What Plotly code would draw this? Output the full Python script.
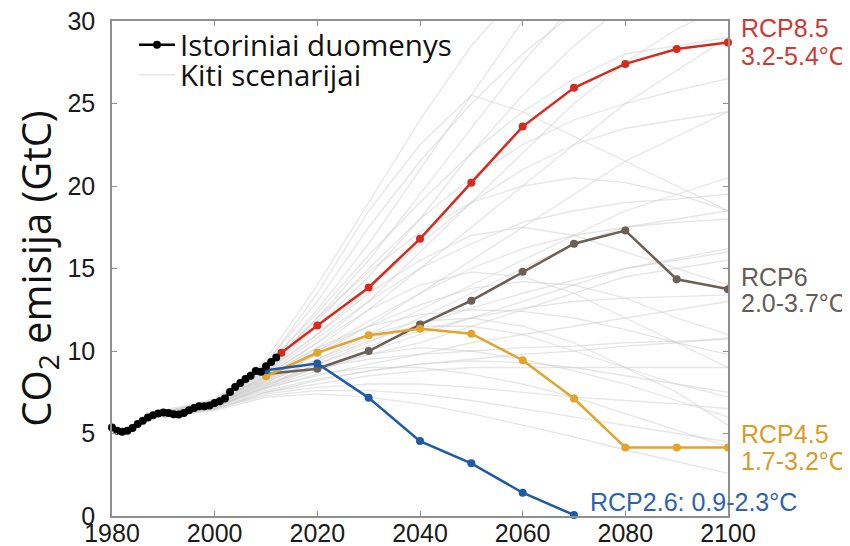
import plotly.graph_objects as go

# ---------------- data ----------------
hist_years = list(range(1980, 2013))
hist_values = [5.37, 5.16, 5.10, 5.16, 5.34, 5.57, 5.77, 5.97, 6.11, 6.21,
               6.27, 6.25, 6.17, 6.15, 6.25, 6.41, 6.55, 6.65, 6.65, 6.69,
               6.85, 6.95, 7.12, 7.52, 7.82, 8.06, 8.30, 8.50, 8.79, 8.75,
               9.07, 9.33, 9.60]

rcp85_years = [2013, 2020, 2030, 2040, 2050, 2060, 2070, 2080, 2090, 2100]
rcp85_values = [9.9, 11.55, 13.85, 16.8, 20.2, 23.6, 25.95, 27.4, 28.3, 28.7]

rcp_years = [2010, 2020, 2030, 2040, 2050, 2060, 2070, 2080, 2090, 2100]
rcp6_values = [8.6, 8.93, 10.0, 11.6, 13.05, 14.8, 16.5, 17.3, 14.35, 13.75]
rcp45_values = [8.47, 9.9, 10.95, 11.35, 11.05, 9.44, 7.12, 4.15, 4.15, 4.15]

rcp26_years = [2010, 2020, 2030, 2040, 2050, 2060, 2070]
rcp26_values = [8.83, 9.24, 7.16, 4.54, 3.19, 1.41, 0.06]

other_years = [1990, 2000, 2010, 2020, 2030, 2040, 2050, 2060, 2070, 2080, 2090, 2100]
other_scenarios = [
    [6.3, 7.0, 9.0, 12.5, 16.5, 21.0, 25.5, 30.0, 34.0, 37.0, 39.0, 40.0],
    [6.3, 7.0, 8.8, 12.0, 15.5, 19.5, 23.5, 27.5, 31.0, 33.0, 35.0, 36.0],
    [6.2, 6.9, 8.7, 11.5, 14.5, 18.0, 22.0, 25.5, 28.5, 31.0, 33.0, 34.0],
    [6.3, 6.9, 9.2, 13.5, 18.5, 22.5, 25.5, 24.5, 23.0, 21.5, 20.0, 18.5],
    [6.2, 6.8, 8.5, 10.5, 13.0, 16.0, 19.0, 22.0, 25.0, 27.5, 29.5, 31.0],
    [6.2, 6.8, 8.4, 10.2, 12.5, 15.0, 17.5, 20.0, 22.5, 25.0, 27.0, 29.0],
    [6.2, 6.8, 8.3, 9.8, 11.5, 13.5, 15.5, 17.5, 19.5, 21.5, 23.0, 24.5],
    [6.2, 6.7, 8.2, 9.5, 11.0, 12.5, 14.0, 15.5, 17.0, 18.5, 19.5, 20.5],
    [6.1, 6.7, 8.0, 9.2, 10.5, 12.0, 13.5, 15.0, 16.5, 17.5, 18.0, 18.5],
    [6.1, 6.7, 8.0, 9.0, 10.0, 11.0, 12.0, 13.0, 14.0, 15.0, 15.5, 16.0],
    [6.1, 6.6, 7.8, 8.8, 9.8, 10.5, 11.5, 12.5, 13.5, 14.5, 15.0, 15.5],
    [6.1, 6.6, 7.8, 8.5, 9.2, 9.8, 10.5, 11.0, 11.5, 12.0, 12.5, 13.0],
    [6.1, 6.6, 7.6, 8.3, 8.8, 9.2, 9.5, 9.8, 10.0, 10.3, 10.5, 10.8],
    [6.0, 6.5, 7.5, 8.0, 8.5, 8.8, 9.0, 9.0, 9.0, 9.0, 9.0, 9.0],
    [6.0, 6.5, 7.4, 7.8, 8.0, 8.0, 7.8, 7.5, 7.2, 7.0, 6.8, 6.5],
    [6.0, 6.5, 7.3, 7.6, 7.6, 7.4, 7.0, 6.5, 6.0, 5.5, 5.0, 4.5],
    [6.1, 6.6, 7.8, 9.0, 9.8, 10.2, 10.0, 9.5, 8.8, 8.0, 7.0, 6.0],
    [6.2, 6.7, 8.2, 9.8, 11.0, 11.8, 12.0, 11.5, 10.5, 9.0, 7.5, 5.5],
    [6.2, 6.8, 8.5, 10.5, 12.5, 14.0, 14.8, 14.5, 13.5, 12.0, 10.5, 9.0],
    [6.3, 6.9, 8.8, 11.0, 13.5, 15.5, 17.0, 17.5, 17.0, 16.0, 15.0, 14.0],
    [6.2, 6.8, 8.6, 10.8, 13.0, 15.0, 16.5, 17.8, 18.5, 19.0, 19.2, 19.5],
    [6.2, 6.7, 8.3, 10.0, 11.8, 13.5, 15.0, 16.2, 17.0, 17.5, 17.8, 18.0],
    [6.1, 6.6, 7.9, 9.2, 10.3, 11.2, 12.0, 12.6, 13.0, 13.2, 13.3, 13.4],
    [6.3, 7.0, 9.3, 13.0, 17.5, 21.5, 25.0, 28.0, 30.5, 32.0, 33.0, 34.0],
    [6.4, 7.1, 9.5, 14.0, 19.0, 24.0, 28.5, 32.0, 35.0, 37.0, 38.0, 39.0],
    [6.3, 6.9, 8.9, 11.8, 15.0, 18.0, 20.5, 22.5, 24.0, 25.0, 25.8, 26.5],
    [6.2, 6.8, 8.7, 11.0, 13.8, 16.5, 19.0, 21.0, 22.5, 23.5, 24.0, 24.5],
    [6.1, 6.6, 7.9, 9.0, 9.5, 9.8, 10.0, 10.2, 10.3, 10.5, 10.6, 10.7],
    [6.1, 6.7, 8.1, 9.5, 10.8, 11.5, 11.5, 11.0, 10.0, 9.0, 8.0, 7.2],
    [6.2, 6.8, 8.4, 10.0, 11.5, 12.8, 13.8, 14.2, 14.0, 13.2, 12.0, 11.0],
    [6.0, 6.5, 7.5, 8.2, 8.8, 9.2, 9.4, 9.3, 9.0, 8.5, 8.0, 7.5],
    [6.3, 6.9, 9.0, 12.0, 14.8, 17.2, 19.0, 20.0, 20.5, 20.2, 19.5, 18.5],
    [6.3, 7.0, 9.1, 12.3, 15.8, 19.0, 22.0, 24.5, 26.5, 28.0, 28.5, 29.0],
    [6.1, 6.6, 7.7, 8.6, 9.0, 9.0, 8.6, 8.0, 7.2, 6.2, 5.2, 4.2],
    [6.1, 6.7, 8.1, 9.4, 10.6, 11.6, 12.6, 13.5, 14.3, 15.0, 15.6, 16.2],
    [6.0, 6.4, 7.2, 7.4, 7.2, 6.8, 6.2, 5.5, 4.8, 4.0, 3.3, 2.6],
    [6.2, 6.8, 8.5, 10.2, 11.5, 12.2, 12.5, 12.4, 12.0, 11.3, 10.5, 9.8],
]

x_ticks = [1980, 2000, 2020, 2040, 2060, 2080, 2100]
y_ticks = [0, 5, 10, 15, 20, 25, 30]

legend_hist = "Istoriniai duomenys"
legend_other = "Kiti scenarijai"

# ---------------- styles ----------------
RED, BROWN, ORANGE, BLUE = "#d62a1e", "#6b5f57", "#e2a42b", "#1f5aa6"
RED_T, BROWN_T, ORANGE_T, BLUE_T = "#cc3a33", "#645c56", "#d99b26", "#2c63ad"
GRAY = "rgba(205,205,205,0.5)"
AXIS = "#8f8f8f"
ARIAL = "Liberation Sans, Arial, sans-serif"
SANS = "Open Sans, DejaVu Sans, sans-serif"

fig = go.Figure()

for i, vals in enumerate(other_scenarios):
    fig.add_trace(go.Scatter(
        x=other_years, y=vals, mode="lines",
        line=dict(color=GRAY, width=1.3),
        name=legend_other, legend="legend2",
        legendgroup="other", showlegend=(i == 0), hoverinfo="skip"))

for xs, ys, col, clip in [
    (rcp_years, rcp6_values, BROWN, True),
    (rcp_years, rcp45_values, ORANGE, True),
    (rcp26_years, rcp26_values, BLUE, False),
    (rcp85_years, rcp85_values, RED, False),
]:
    fig.add_trace(go.Scatter(
        x=xs, y=ys, mode="lines+markers",
        line=dict(color=col, width=2.5),
        marker=dict(color=col, size=8),
        showlegend=False, cliponaxis=clip))

fig.add_trace(go.Scatter(
    x=hist_years, y=hist_values, mode="lines+markers",
    line=dict(color="black", width=2.5),
    marker=dict(color="black", size=8),
    name=legend_hist, legend="legend", showlegend=True, cliponaxis=False))

LX = 1.0185
labels = [
    ("RCP8.5", LX, 29.6, RED_T),
    ("3.2-5.4°C", LX, 27.9, RED_T),
    ("RCP6", LX, 14.5, BROWN_T),
    ("2.0-3.7°C", LX, 12.9, BROWN_T),
    ("RCP4.5", LX, 4.99, ORANGE_T),
    ("1.7-3.2°C", LX, 3.33, ORANGE_T),
    ("RCP2.6: 0.9-2.3°C", 0.772, 0.85, BLUE_T),
]
for txt, xp, yv, col in labels:
    fig.add_annotation(text=txt, x=xp, xref="paper", y=yv, yref="y",
                       xanchor="left", yanchor="middle", showarrow=False,
                       font=dict(family=ARIAL, size=25, color=col))

fig.update_layout(
    width=850, height=546,
    margin=dict(l=104, r=130, t=12, b=38),
    paper_bgcolor="white", plot_bgcolor="white",
    legend=dict(x=0.0357, y=0.9496, xanchor="left", yanchor="middle",
                bgcolor="rgba(0,0,0,0)", itemwidth=36,
                font=dict(family=SANS, size=29.5, color="#111")),
    legend2=dict(x=0.0357, y=0.889, xanchor="left", yanchor="middle",
                 bgcolor="rgba(0,0,0,0)", itemwidth=36,
                 font=dict(family=SANS, size=29.5, color="#111")),
)
fig.update_xaxes(range=[1980, 2100], tickvals=x_ticks, ticks="inside",
                 ticklen=5, tickcolor=AXIS, showline=True, linecolor=AXIS,
                 linewidth=1.5, mirror="ticks", showgrid=False, zeroline=False,
                 tickfont=dict(family=ARIAL, size=25, color="#1a1a1a"),
                 ticklabelstandoff=-6, ticklabeloverflow="allow",
                 automargin=False)
fig.update_yaxes(range=[0, 30], tickvals=y_ticks, ticks="inside",
                 ticklen=5, tickcolor=AXIS, showline=True, linecolor=AXIS,
                 linewidth=1.5, mirror="ticks", showgrid=False, zeroline=False,
                 tickfont=dict(family=ARIAL, size=25, color="#1a1a1a"),
                 ticklabelstandoff=10, ticklabeloverflow="allow",
                 title=dict(text="CO<sub>2</sub> emisija (GtC)",
                            font=dict(family=SANS, size=40, color="#111"),
                            standoff=12),
                 automargin=False)

fig.write_html("out.html")
